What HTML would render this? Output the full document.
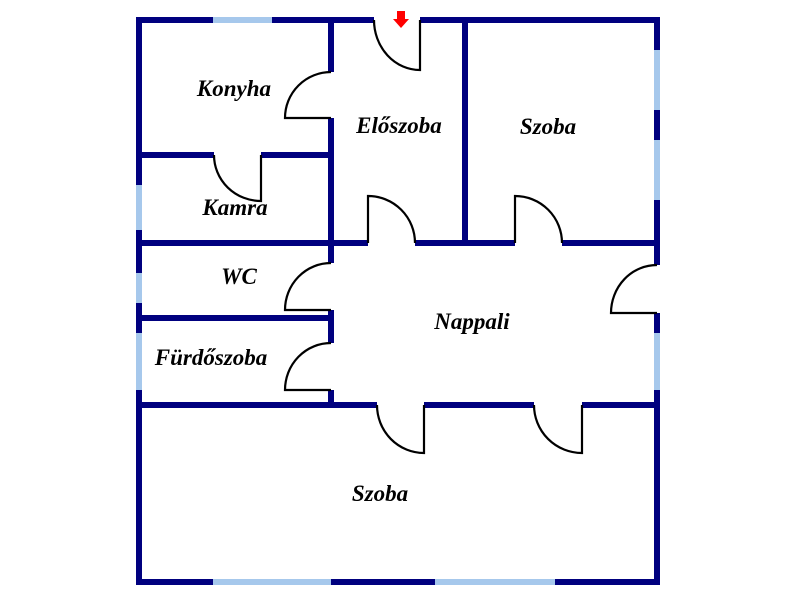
<!DOCTYPE html>
<html><head><meta charset="utf-8"><style>
html,body{margin:0;padding:0;background:#fff;width:800px;height:600px;overflow:hidden}
text{font-family:"Liberation Serif",serif;font-style:italic;font-weight:bold;font-size:23px;fill:#000;text-anchor:middle}
</style></head><body>
<svg width="800" height="600" viewBox="0 0 800 600" xmlns="http://www.w3.org/2000/svg">
<g stroke="#00007f" stroke-width="6" fill="none" stroke-linecap="square">
<line x1="139" y1="20" x2="371" y2="20"/>
<line x1="423" y1="20" x2="657" y2="20"/>
<line x1="139" y1="20" x2="139" y2="582"/>
<line x1="657" y1="20" x2="657" y2="262"/>
<line x1="657" y1="316" x2="657" y2="582"/>
<line x1="139" y1="582" x2="657" y2="582"/>
<line x1="331" y1="20" x2="331" y2="69"/>
<line x1="331" y1="121" x2="331" y2="260"/>
<line x1="331" y1="313" x2="331" y2="340"/>
<line x1="331" y1="393" x2="331" y2="405"/>
<line x1="465" y1="20" x2="465" y2="243"/>
<line x1="139" y1="155" x2="211" y2="155"/>
<line x1="264" y1="155" x2="331" y2="155"/>
<line x1="139" y1="243" x2="365" y2="243"/>
<line x1="418" y1="243" x2="512" y2="243"/>
<line x1="565" y1="243" x2="657" y2="243"/>
<line x1="139" y1="318" x2="331" y2="318"/>
<line x1="139" y1="405" x2="374" y2="405"/>
<line x1="427" y1="405" x2="531" y2="405"/>
<line x1="585" y1="405" x2="657" y2="405"/>
</g>
<g stroke="#a6c8ec" stroke-width="6">
<line x1="213" y1="20" x2="272" y2="20"/>
<line x1="213" y1="582" x2="331" y2="582"/>
<line x1="435" y1="582" x2="555" y2="582"/>
<line x1="139" y1="185" x2="139" y2="230"/>
<line x1="139" y1="273" x2="139" y2="303"/>
<line x1="139" y1="333" x2="139" y2="390"/>
<line x1="657" y1="50" x2="657" y2="110"/>
<line x1="657" y1="140" x2="657" y2="200"/>
<line x1="657" y1="333" x2="657" y2="390"/>
</g>
<g stroke="#000" stroke-width="2.2" fill="none">
<path d="M420 20 V70 A46 50 0 0 1 374 20"/>
<path d="M331 72 A46 46 0 0 0 285 118 H331"/>
<path d="M214 155 A47 46 0 0 0 261 201 V155"/>
<path d="M368 243 V196 A47 47 0 0 1 415 243"/>
<path d="M515 243 V196 A47 47 0 0 1 562 243"/>
<path d="M331 263 A46 47 0 0 0 285 310 H331"/>
<path d="M331 343 A46 47 0 0 0 285 390 H331"/>
<path d="M657 265 A46 48 0 0 0 611 313 H657"/>
<path d="M377 405 A47 48 0 0 0 424 453 V405"/>
<path d="M534 405 A48 48 0 0 0 582 453 V405"/>
</g>
<polygon points="397,11 405,11 405,19 409,19 401,28 393,19 397,19" fill="#ff0000"/>
<text x="234" y="96">Konyha</text>
<text x="399" y="133">Előszoba</text>
<text x="548" y="134">Szoba</text>
<text x="235" y="215">Kamra</text>
<text x="239" y="284">WC</text>
<text x="472" y="329">Nappali</text>
<text x="211" y="365">Fürdőszoba</text>
<text x="380" y="501">Szoba</text>
</svg>
</body></html>
